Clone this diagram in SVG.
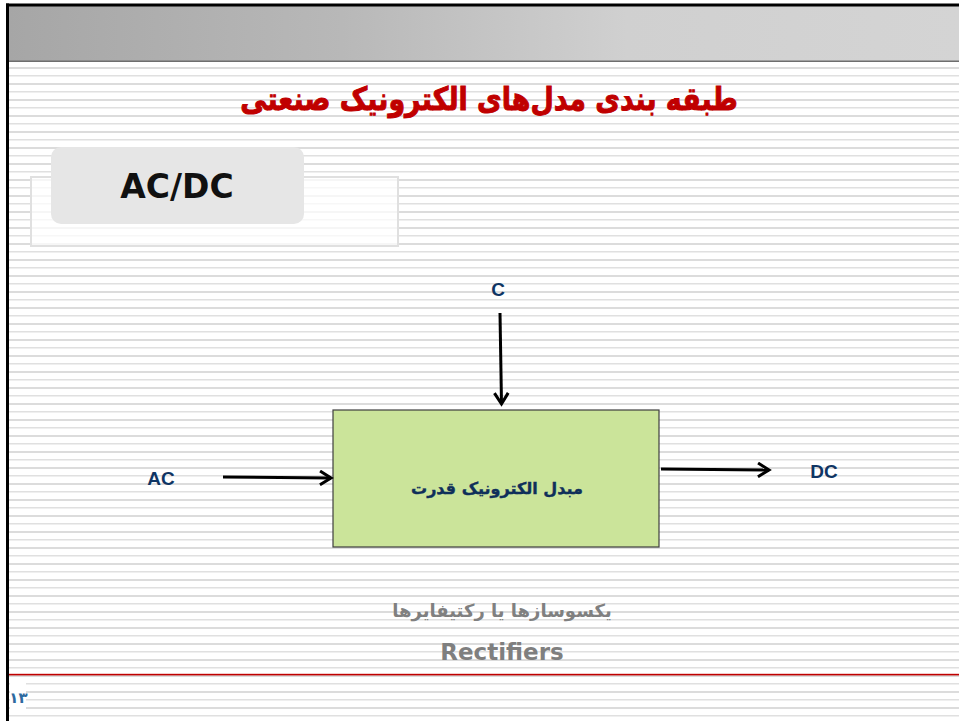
<svg xmlns="http://www.w3.org/2000/svg" width="959" height="721" viewBox="0 0 959 721">
<defs>
<pattern id="stripes" x="0" y="0" width="16" height="16" patternUnits="userSpaceOnUse">
<rect x="0" y="3" width="16" height="2" fill="#dcdcdc"/>
<rect x="0" y="11" width="16" height="1.5" fill="#e0e0e0"/>
</pattern>
<linearGradient id="hdr" x1="0" y1="0" x2="1" y2="0">
<stop offset="0" stop-color="#a6a6a6"/>
<stop offset="0.35" stop-color="#b8b8b8"/>
<stop offset="0.65" stop-color="#d0d0d0"/>
<stop offset="1" stop-color="#d4d4d4"/>
</linearGradient>
<marker id="arr" viewBox="0 0 12 12" refX="10" refY="6" markerWidth="5.5" markerHeight="5.5" orient="auto" markerUnits="strokeWidth">
<path d="M2,1 L10,6 L2,11" fill="none" stroke="#000" stroke-width="2.2"/>
</marker>
</defs>
<style>
.lbl{font-family:"Liberation Sans","DejaVu Sans",sans-serif;font-weight:bold;font-size:19px;fill:#0f3564}
.conn{stroke:#000;stroke-width:3;fill:none}
</style>
<rect width="959" height="721" fill="#fff"/>
<rect x="9" y="6" width="950" height="715" fill="url(#stripes)"/>
<rect x="9" y="6" width="950" height="55" fill="url(#hdr)"/>
<rect x="9" y="60.5" width="950" height="1.5" fill="#6e6e6e"/>
<rect x="6" y="3.5" width="953" height="3" fill="#000"/>
<rect x="6" y="3.5" width="3" height="718" fill="#000"/>

<g id="title">
<text transform="translate(489,110) scale(0.84,1)" x="0" y="0" text-anchor="middle" font-family="'DejaVu Sans',sans-serif" font-weight="bold" font-size="32" fill="#c00000" stroke="#c00000" stroke-width="1" direction="rtl">طبقه بندی مدل‌های الکترونیک صنعتی</text>
</g>

<g id="acdc-box">
<rect x="31" y="177" width="367" height="69" fill="#fff" fill-opacity="0.75" stroke="#e0e0e0" stroke-width="2"/>
<rect x="51" y="147" width="253" height="77" rx="10" fill="#e6e6e6"/>
<text x="177" y="198" text-anchor="middle" font-family="'DejaVu Sans',sans-serif" font-weight="bold" font-size="33" fill="#111">AC/DC</text>
</g>

<g id="converter">
<rect x="333" y="410" width="326" height="137" fill="#cbe49a" stroke="#3f3f3f" stroke-width="1.2"/>
<text x="497" y="494" text-anchor="middle" font-family="'DejaVu Sans',sans-serif" font-weight="bold" font-size="16" fill="#0f2f5a" stroke="#0f2f5a" stroke-width="0.4" direction="rtl">مبدل الکترونیک قدرت</text>
</g>

<g id="label-c"><text class="lbl" x="498" y="296" text-anchor="middle">C</text></g>
<g id="label-ac"><text class="lbl" x="161" y="485" text-anchor="middle">AC</text></g>
<g id="label-dc"><text class="lbl" x="824" y="478" text-anchor="middle">DC</text></g>

<g id="connectors">
<line class="conn" x1="500" y1="313" x2="501.5" y2="404" marker-end="url(#arr)"/>
<line class="conn" x1="223" y1="477" x2="331" y2="478" marker-end="url(#arr)"/>
<line class="conn" x1="661" y1="469" x2="769" y2="470" marker-end="url(#arr)"/>
</g>

<g id="caption">
<text x="502" y="617" text-anchor="middle" font-family="'DejaVu Sans',sans-serif" font-weight="bold" font-size="18" fill="#808080" direction="rtl">یکسوسازها یا رکتیفایرها</text>
<text x="502" y="660" text-anchor="middle" font-family="'DejaVu Sans',sans-serif" font-weight="bold" font-size="23" fill="#7f7f7f">Rectifiers</text>
</g>

<rect x="9" y="673.8" width="950" height="1.6" fill="#c00000"/>

<g id="page-number">
<rect x="10" y="683" width="16" height="26" fill="#fff"/>
<text x="18.5" y="703" text-anchor="middle" font-family="'DejaVu Sans',sans-serif" font-weight="bold" font-size="15" fill="#2e6aa0">۱۳</text>
</g>
</svg>
